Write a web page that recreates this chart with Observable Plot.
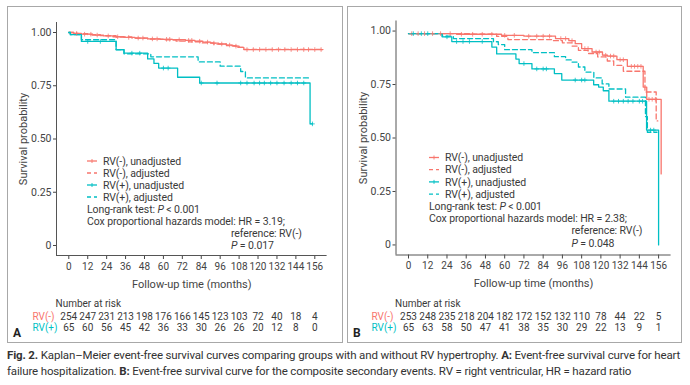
<!DOCTYPE html>
<html><head><meta charset="utf-8">
<script src="https://cdn.jsdelivr.net/npm/d3@7"></script>
<script src="https://cdn.jsdelivr.net/npm/@observablehq/plot@0.6"></script>
<style>
body{margin:0;background:#fff;width:690px;height:385px;position:relative;overflow:hidden;font-family:Roboto,sans-serif;color:#3a3a3a}
.box{position:absolute;border:1.5px solid #a8a8a8;box-sizing:border-box}
.abs{position:absolute}
.lbl{position:absolute;font-weight:bold;font-size:12px;color:#222}
#cap{position:absolute;left:7px;top:347px;width:684px;font-size:11.5px;letter-spacing:-0.15px;line-height:16px;color:#333;white-space:nowrap}
</style></head><body>
<div class="box" style="left:7px;top:6px;width:336px;height:337px"></div>
<div class="box" style="left:347px;top:6px;width:335px;height:337px"></div>
<div id="pA" class="abs" style="left:0;top:0"></div>
<div id="rA" class="abs" style="left:0;top:292px"></div>
<div id="pB" class="abs" style="left:345px;top:0"></div>
<div id="rB" class="abs" style="left:345px;top:292px"></div>
<div class="lbl" style="left:13px;top:326px">A</div>
<div class="lbl" style="left:353px;top:326px">B</div>
<div id="cap"><b>Fig. 2.</b> Kaplan–Meier event-free survival curves comparing groups with and without RV hypertrophy. <b>A:</b> Event-free survival curve for heart<br>failure hospitalization. <b>B:</b> Event-free survival curve for the composite secondary events. RV = right ventricular, HR = hazard ratio</div>
<script>
// ---------- data ----------
const months = [0, 12, 24, 36, 48, 60, 72, 84, 96, 108, 120, 132, 144, 156];
const yTicks = [0, 0.25, 0.5, 0.75, 1];
const groups = ["RV(-)", "RV(+)"];
const groupColors = ["#F8766D", "#00BFC4"];
const legendLabels = ["RV(-), unadjusted", "RV(-), adjusted", "RV(+), unadjusted", "RV(+), adjusted"];

// Panel A: heart failure hospitalization
const aNegUnadjT = [0, 3, 8, 15, 22, 28, 35, 42, 50, 58, 66, 74, 80, 85, 90, 95, 100, 104, 108, 111, 161];
const aNegUnadjS = [1.0, .996, .992, .988, .984, .980, .977, .974, .970, .968, .966, .963, .959, .955, .950, .946, .941, .936, .930, .920, .920];
const aNegAdjT = [0, 5, 12, 20, 30, 40, 50, 60, 68, 76, 84, 92, 100, 106, 111, 161];
const aNegAdjS = [1.0, .995, .990, .985, .979, .974, .969, .965, .960, .956, .951, .945, .938, .930, .921, .921];
const aPosUnadjT = [0, 1, 8, 30, 35, 50, 54, 57, 69, 83, 153, 154.5];
const aPosUnadjS = [1.0, .990, .958, .919, .903, .876, .855, .833, .790, .763, .571, .571];
const aPosAdjT = [0, 1, 8, 30, 35, 52, 82, 96, 109, 112, 153];
const aPosAdjS = [1.0, .990, .966, .920, .900, .886, .862, .842, .817, .787, .787];
const aNegCensor = [5, 10, 14, 18, 25, 31, 38, 44, 47, 53, 56, 62, 64, 70, 76, 78, 83, 88, 92, 97, 102, 106, 113, 117, 121, 125, 129, 133, 137, 141, 145, 149, 152, 156, 160];
const aPosCensor = [12, 20, 40, 45, 60, 63, 84, 94, 109, 113, 117.5, 121, 124, 128, 132, 136.5, 141, 145, 149, 154.5];
const aRiskNeg = [254, 247, 231, 213, 198, 176, 166, 145, 123, 103, 72, 40, 18, 4];
const aRiskPos = [65, 60, 56, 45, 42, 36, 33, 30, 26, 26, 20, 12, 8, 0];
const aHR = "3.19", aP = "0.017";

// Panel B: composite secondary events
const bNegUnadjT = [0, 30, 58, 72, 91.7, 100, 104, 108, 114.5, 121, 124, 130, 136.5, 146.4, 148.6, 157.6];
const bNegUnadjS = [.988, .985, .980, .976, .965, .955, .941, .918, .902, .887, .883, .866, .835, .738, .681, .332];
const bNegAdjT = [0, 40, 55, 62, 90, 96, 102, 106, 112, 118, 124, 128, 134, 147.5, 154.5, 155.5];
const bNegAdjS = [.988, .985, .975, .960, .955, .945, .930, .910, .895, .879, .860, .840, .812, .715, .580, .580];
const bPosUnadjT = [0, 21, 27, 52, 55, 67, 69, 77, 91, 95.6, 115.5, 118.6, 121.5, 125, 148.5, 156];
const bPosUnadjS = [.988, .973, .951, .925, .893, .869, .848, .823, .801, .771, .749, .738, .721, .672, .537, 0];
const bPosAdjT = [0, 21, 28, 53, 56, 60, 77, 91, 98, 102, 106, 110, 115.6, 120.8, 125, 135.4, 147.8, 149, 155];
const bPosAdjS = [.988, .976, .965, .950, .937, .913, .899, .880, .865, .855, .832, .808, .781, .753, .729, .691, .600, .527, .527];
const bNegCensor = [2, 6, 10, 15, 20, 26, 33, 40, 46, 52, 60, 66, 75, 80, 84, 88, 95, 98, 102, 110, 112, 117, 119, 123, 126, 128, 132, 134, 139, 141, 143, 145, 150, 152, 154];
const bPosCensor = [3, 8, 12, 24, 30, 34, 38, 46, 72, 80, 84, 86, 104, 108, 110, 128, 131, 134, 137, 140, 144, 146, 151, 153];
const bRiskNeg = [253, 248, 235, 218, 204, 182, 172, 152, 132, 110, 78, 44, 22, 5];
const bRiskPos = [65, 63, 58, 50, 47, 41, 38, 35, 30, 29, 22, 13, 9, 1];
const bHR = "2.38", bP = "0.048";

// ---------- helpers ----------
const xDomain = [-7.8, 163.8];
const yDomain = [-0.047, 1.047];
const FONT = 'Roboto,sans-serif';
const DASH = "5,3";

function curve(T, S, group, adj) {
  return T.map((t, i) => ({t, s: S[i], group, adj}));
}
function stepAt(T, S, t) {
  const i = d3.bisectRight(T, t) - 1;
  return S[Math.max(0, i)];
}
function censors(times, T, S, group) {
  return times.map(t => ({t, s: stepAt(T, S, t), group}));
}

function panel(cfg) {
  const curves = [
    curve(cfg.negUT, cfg.negUS, groups[0], false),
    curve(cfg.negAT, cfg.negAS, groups[0], true),
    curve(cfg.posUT, cfg.posUS, groups[1], false),
    curve(cfg.posAT, cfg.posAS, groups[1], true)
  ];
  const cens = [
    ...censors(cfg.negC, cfg.negUT, cfg.negUS, groups[0]),
    ...censors(cfg.posC, cfg.posUT, cfg.posUS, groups[1])
  ];
  const main = Plot.plot({
    width: 345, height: 295,
    marginLeft: cfg.ml, marginRight: cfg.mr, marginTop: cfg.mt, marginBottom: cfg.mb,
    style: {fontFamily: FONT, fontSize: "10px", color: "#444", background: "transparent"},
    x: {domain: xDomain, ticks: months, tickSize: 4, tickPadding: 3, tickFormat: d => String(d),
        label: "Follow-up time (months)", labelAnchor: "center", labelOffset: 32, labelArrow: false},
    y: {domain: yDomain, ticks: yTicks, tickSize: 3, tickPadding: 2,
        tickFormat: d => d === 0 ? "0" : d.toFixed(2),
        label: "Survival probability", labelAnchor: "center", labelOffset: 37, labelArrow: false},
    color: {domain: groups, range: groupColors},
    marks: [
      Plot.ruleX([xDomain[0]], {stroke: "#555", strokeWidth: 1}),
      Plot.ruleY([yDomain[0]], {stroke: "#555", strokeWidth: 1}),
      ...curves.map(c => Plot.line(c, {
        x: "t", y: "s", stroke: "group", curve: "step-after",
        strokeWidth: 1.3, strokeDasharray: c[0].adj ? DASH : null
      })),
      Plot.dot(cens, {x: "t", y: "s", stroke: "group", symbol: "plus", r: 1.6, strokeWidth: 0.8})
    ]
  });
  document.getElementById(cfg.id).appendChild(main);
  const svg = d3.select(main);
  svg.selectAll('g[aria-label="x-axis label"], g[aria-label="y-axis label"]').attr("font-size", "11px");
  svg.selectAll('g[aria-label="y-axis tick label"]').attr("font-size", "10.5px");

  // legend + annotations inside the plot
  const lg = svg.append("g").attr("font-family", FONT).attr("font-size", 10.5).attr("fill", "#3a3a3a")
    .attr("text-anchor", "start").attr("letter-spacing", "-0.1px");
  legendLabels.forEach((lab, i) => {
    const y = cfg.legY + i * cfg.legStep;
    const col = groupColors[i < 2 ? 0 : 1];
    const adj = i % 2 === 1;
    lg.append("line").attr("x1", cfg.legX).attr("x2", cfg.legX + 10).attr("y1", y).attr("y2", y)
      .attr("stroke", col).attr("stroke-width", 1.3).attr("stroke-dasharray", adj ? "4,3" : null);
    if (!adj) {
      lg.append("line").attr("x1", cfg.legX + 5).attr("x2", cfg.legX + 5).attr("y1", y - 2).attr("y2", y + 2)
        .attr("stroke", col).attr("stroke-width", 0.9);
    }
    lg.append("text").attr("x", cfg.legX + 16).attr("y", y).attr("dy", "0.35em").text(lab);
  });
  const y0 = cfg.legY + 4 * cfg.legStep;
  const t1 = lg.append("text").attr("x", cfg.legX).attr("y", y0).attr("dy", "0.35em");
  t1.append("tspan").text("Long-rank test: ");
  t1.append("tspan").attr("font-style", "italic").text("P");
  t1.append("tspan").text(" < 0.001");
  lg.append("text").attr("x", cfg.legX).attr("y", y0 + cfg.legStep).attr("dy", "0.35em")
    .text("Cox proportional hazards model: HR = " + cfg.hr + ";");
  lg.append("text").attr("x", cfg.refX).attr("y", y0 + 2 * cfg.legStep).attr("dy", "0.35em")
    .text("reference: RV(-)");
  const t2 = lg.append("text").attr("x", cfg.refX).attr("y", y0 + 3 * cfg.legStep).attr("dy", "0.35em");
  t2.append("tspan").attr("font-style", "italic").text("P");
  t2.append("tspan").text(" = " + cfg.p);

  // risk table
  const rows = [
    ...months.map((t, i) => ({t, g: groups[0], n: cfg.riskNeg[i]})),
    ...months.map((t, i) => ({t, g: groups[1], n: cfg.riskPos[i]}))
  ];
  const risk = Plot.plot({
    width: 345, height: 48,
    marginLeft: cfg.ml, marginRight: cfg.mr, marginTop: 0, marginBottom: 0,
    style: {fontFamily: FONT, fontSize: "10px", color: "#3a3a3a", background: "transparent", overflow: "visible"},
    x: {domain: xDomain, axis: null},
    y: {type: "point", domain: groups, range: [24, 35.7], padding: 0, axis: null},
    color: {domain: groups, range: groupColors},
    marks: [
      Plot.text(["Number at risk"], {frameAnchor: "top-left", dx: -1, dy: 7, textAnchor: "start", text: d => d, fill: "#3a3a3a"}),
      Plot.text(groups, {y: d => d, text: d => d, fill: d => d, frameAnchor: "left", dx: cfg.rowDx, textAnchor: "start"}),
      Plot.text(rows, {x: "t", y: "g", text: "n", fill: "#3a3a3a"})
    ]
  });
  document.getElementById(cfg.rid).appendChild(risk);
}

panel({id: "pA", rid: "rA", ml: 56, mr: 18.4, mt: 22, mb: 40,
  negUT: aNegUnadjT, negUS: aNegUnadjS, negAT: aNegAdjT, negAS: aNegAdjS,
  posUT: aPosUnadjT, posUS: aPosUnadjS, posAT: aPosAdjT, posAS: aPosAdjS,
  negC: aNegCensor, posC: aPosCensor, riskNeg: aRiskNeg, riskPos: aRiskPos,
  hr: aHR, p: aP, legX: 87, legY: 161, legStep: 12, refX: 231, rowDx: -24});

panel({id: "pB", rid: "rB", ml: 50.5, mr: 19.4, mt: 20.5, mb: 40.5,
  negUT: bNegUnadjT, negUS: bNegUnadjS, negAT: bNegAdjT, negAS: bNegAdjS,
  posUT: bPosUnadjT, posUS: bPosUnadjS, posAT: bPosAdjT, posAS: bPosAdjS,
  negC: bNegCensor, posC: bPosCensor, riskNeg: bRiskNeg, riskPos: bRiskPos,
  hr: bHR, p: bP, legX: 84, legY: 157.5, legStep: 12.2, refX: 226.5, rowDx: -24.5});
</script>
</body></html>
